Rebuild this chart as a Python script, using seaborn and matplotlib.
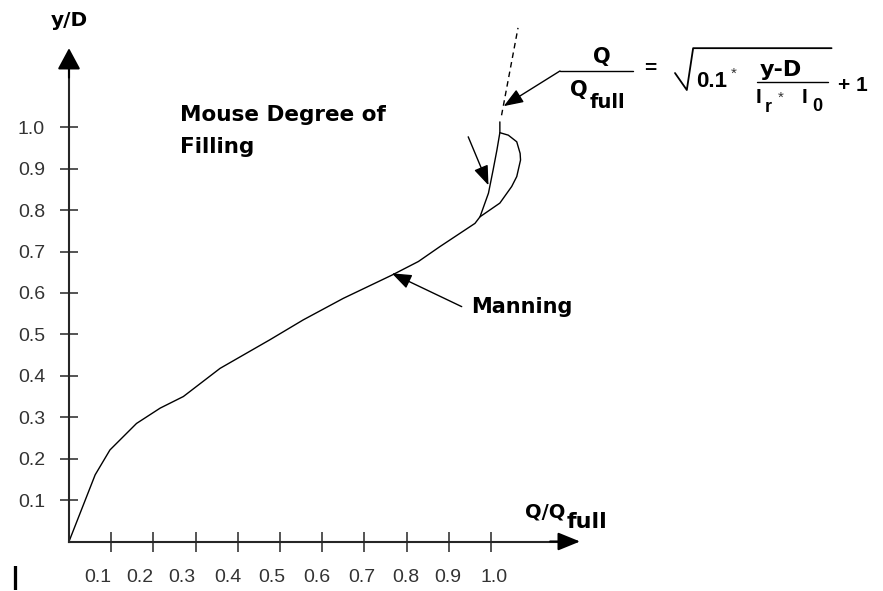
import matplotlib
matplotlib.use('Agg')
import matplotlib.pyplot as plt
import seaborn as sns
import pandas as pd

# Manning curve (partially filled pipe), incl. the bulge above y/D = 0.8
manning_q = [0.0, 0.062, 0.097, 0.160, 0.216, 0.271, 0.358, 0.476, 0.555,
             0.650, 0.765, 0.828, 0.879, 0.962, 0.974, 1.021, 1.049, 1.061, 1.070,
             1.069, 1.061, 1.041, 1.021]
manning_y = [0.0, 0.161, 0.221, 0.285, 0.322, 0.350, 0.418, 0.487, 0.535,
             0.587, 0.643, 0.676, 0.712, 0.768, 0.784, 0.817, 0.857, 0.881, 0.921,
             0.937, 0.965, 0.981, 0.987]

# Mouse degree of filling, nearly vertical branch
mouse_q = [0.974, 0.994, 1.005, 1.014, 1.021, 1.021]
mouse_y = [0.784, 0.841, 0.897, 0.945, 0.987, 1.013]

# pressurised flow, dashed continuation above y/D = 1
press_q = [1.025, 1.064]
press_y = [1.029, 1.24]

y_ticks = [0.1, 0.2, 0.3, 0.4, 0.5, 0.6, 0.7, 0.8, 0.9, 1.0]
y_labels = ["0.1", "0.2", "0.3", "0.4", "0.5", "0.6", "0.7", "0.8", "0.9", "1.0"]
x_ticks = [0.1, 0.2, 0.3, 0.4, 0.5, 0.6, 0.7, 0.8, 0.9, 1.0]
x_labels = ["0.1", "0.2", "0.3", "0.4", "0.5", "0.6", "0.7", "0.8", "0.9", "1.0"]
x_label_pos = [0.069, 0.168, 0.268, 0.377, 0.481, 0.588, 0.694, 0.799, 0.898, 1.007]

manning_df = pd.DataFrame({"q": manning_q, "y": manning_y})
mouse_df = pd.DataFrame({"q": mouse_q, "y": mouse_y})
press_df = pd.DataFrame({"q": press_q, "y": press_y})

sns.set_style("ticks")
plt.rcParams['font.family'] = ['Liberation Sans', 'DejaVu Sans']

fig = plt.figure(figsize=(8.83, 5.91), dpi=100)
ax = fig.add_axes([0, 0, 1, 1])
ax.set_facecolor("white")

sns.lineplot(data=manning_df, x="q", y="y", sort=False, estimator=None,
             color="black", lw=1.0, ax=ax)
sns.lineplot(data=mouse_df, x="q", y="y", sort=False, estimator=None,
             color="black", lw=1.0, ax=ax)
sns.lineplot(data=press_df, x="q", y="y", sort=False, estimator=None,
             color="black", lw=1.0, linestyle=(0, (4, 3)), ax=ax)

ax.set_xlim(-0.1635, 1.9289)
ax.set_ylim(-0.1195, 1.3073)
ax.set_xlabel("")
ax.set_ylabel("")

# axes through the origin, with arrow heads
for s in ["top", "right"]:
    ax.spines[s].set_visible(False)
ax.spines["left"].set_position(("data", 0))
ax.spines["bottom"].set_position(("data", 0))
ax.spines["left"].set_bounds(0, 1.16)
ax.spines["bottom"].set_bounds(0, 1.17)
ax.spines["left"].set_linewidth(1.5)
ax.spines["bottom"].set_linewidth(1.5)
ax.annotate("", xy=(0, 1.191), xytext=(0, 1.12),
            arrowprops=dict(arrowstyle="-|>,head_length=1.3,head_width=0.7",
                            mutation_scale=10, lw=1.5, color="black",
                            shrinkA=0, shrinkB=0))
ax.annotate("", xy=(1.211, 0), xytext=(1.14, 0),
            arrowprops=dict(arrowstyle="-|>,head_length=1.35,head_width=0.55",
                            mutation_scale=10, lw=1.5, color="black",
                            shrinkA=0, shrinkB=0))

ax.set_yticks(y_ticks)
ax.set_yticklabels(y_labels)
ax.tick_params(axis="y", direction="inout", length=12.5, width=1.1, pad=11,
               labelsize=14, labelcolor="#333333")
ax.set_xticks(x_ticks)
ax.set_xticklabels([])
ax.tick_params(axis="x", which="major", direction="inout", length=14, width=1.1)
ax.set_xticks(x_label_pos, minor=True)
ax.set_xticklabels(x_labels, minor=True)
ax.tick_params(axis="x", which="minor", length=0, pad=20, labelsize=14,
               labelcolor="#333333")

# bold wide face for the labels, Arial-like for formula digits
wide = dict(fontweight="bold", color="black", family="DejaVu Sans")
bold = dict(fontweight="bold", color="black")

# axis titles
ax.text(0.0, 1.259, "y/D", ha="center", va="center", fontsize=14.5, **wide)
ax.text(1.0806, 0.0712, "Q/Q", ha="left", va="center", fontsize=14, **wide)
ax.text(1.180, 0.047, "full", ha="left", va="center", fontsize=16, **wide)

# curve names with leader arrows
ax.text(0.263, 1.030, "Mouse Degree of", ha="left", va="center", fontsize=15.5, **wide)
ax.text(0.263, 0.953, "Filling", ha="left", va="center", fontsize=15.5, **wide)
ax.text(0.954, 0.567, "Manning", ha="left", va="center", fontsize=15, **wide)

head = dict(arrowstyle="-|>,head_length=1.2,head_width=0.45", mutation_scale=10,
            lw=1.0, color="black", shrinkA=0, shrinkB=0)
ax.annotate("", xy=(0.994, 0.860), xytext=(0.946, 0.977), arrowprops=head)
ax.annotate("", xy=(0.765, 0.6475), xytext=(0.9306, 0.567), arrowprops=head)
ax.annotate("", xy=(1.030, 1.051), xytext=(1.1635, 1.136), arrowprops=head)

# formula  Q/Qfull = sqrt(0.1 * (y-D)/(Ir * I0) + 1)
ax.plot([1.1635, 1.3365], [1.136, 1.136], color="black", lw=1.0)
ax.text(1.263, 1.170, "Q", ha="center", va="center", fontsize=15, **wide)
ax.text(1.2085, 1.090, "Q", ha="center", va="center", fontsize=15, **wide)
ax.text(1.2346, 1.061, "full", ha="left", va="center", fontsize=14, **wide)
ax.text(1.377, 1.141, "=", ha="center", va="center", fontsize=15, **bold)
ax.plot([1.436, 1.464, 1.479, 1.807], [1.131, 1.090, 1.191, 1.191],
        color="black", lw=1.3)
ax.text(1.523, 1.110, "0.1", ha="center", va="center", fontsize=16, **bold)
ax.text(1.576, 1.128, "*", ha="center", va="center", fontsize=11, color="#333333")
ax.text(1.687, 1.138, "y-D", ha="center", va="center", fontsize=16, **wide)
ax.plot([1.6296, 1.7993], [1.110, 1.110], color="black", lw=1.0)
ax.text(1.634, 1.071, "I", ha="center", va="center", fontsize=15, **bold)
ax.text(1.656, 1.047, "r", ha="center", va="center", fontsize=13, **bold)
ax.text(1.686, 1.072, "*", ha="center", va="center", fontsize=11, color="#333333")
ax.text(1.743, 1.071, "I", ha="center", va="center", fontsize=15, **bold)
ax.text(1.774, 1.049, "0", ha="center", va="center", fontsize=13, **bold)
ax.text(1.858, 1.102, "+ 1", ha="center", va="center", fontsize=15, **bold)

# stray cursor mark bottom left
ax.text(-0.128, -0.087, "|", ha="center", va="center", fontsize=18, **bold)

plt.savefig("out.png", dpi=100)
plt.close()
